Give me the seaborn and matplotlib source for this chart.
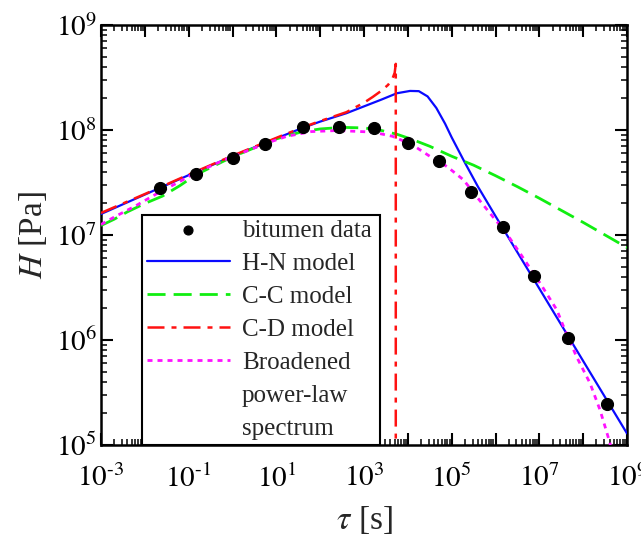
import numpy as np
import pandas as pd
import matplotlib
matplotlib.use("Agg")
import matplotlib.pyplot as plt
import matplotlib.ticker as mticker
from matplotlib.lines import Line2D
import seaborn as sns

# ---------------- data ----------------
data_tau = [2.2e-2, 0.145, 1.01, 5.6, 41.0, 274.0, 1.7e3, 9.9e3, 5.15e4,
            2.72e5, 1.46e6, 7.6e6, 4.6e7, 3.44e8]
data_H = [2.82e7, 3.81e7, 5.45e7, 7.36e7, 1.06e8, 1.06e8, 1.04e8, 7.57e7,
          5.1e7, 2.58e7, 1.18e7, 4.07e6, 1.04e6, 2.44e5]

# H-N model (log10 tau, log10 H)
hn_logtau = [-3, -2, -1, 0, 1, 1.6, 2.0, 2.6, 3.0, 3.4, 3.75, 4.05, 4.25,
             4.45, 4.65, 4.85, 5.0, 5.3, 5.6, 6.0, 6.5, 7.0, 7.5, 8.0, 8.5, 9.0]
hn_logH = [7.20, 7.385, 7.57, 7.75, 7.92, 8.02, 8.08, 8.16, 8.225, 8.29,
           8.35, 8.372, 8.37, 8.32, 8.21, 8.06, 7.93, 7.69, 7.46, 7.18,
           6.835, 6.49, 6.145, 5.80, 5.455, 5.11]

# C-C model
cc_logtau = [-3, -2.7, -2.4, -2.0, -1.6, -1.2, -0.85, 0, 1.0, 1.6, 2.0, 2.5,
             3.0, 3.4, 3.75, 4.1, 4.5, 5.0, 5.5, 6.0, 6.5, 7.0, 7.5, 8.0, 8.5, 9.0]
cc_logH = [7.09, 7.15, 7.22, 7.30, 7.37, 7.47, 7.57, 7.745, 7.915, 7.985,
           8.01, 8.025, 8.02, 7.995, 7.96, 7.91, 7.845, 7.75, 7.665, 7.565,
           7.46, 7.35, 7.235, 7.12, 7.0, 6.88]

# C-D model
cd_logtau = [-3, -2, -1, 0, 1, 1.6, 2.0, 2.6, 3.0, 3.2, 3.4, 3.55, 3.65,
             3.70, 3.725, 3.725]
cd_logH = [7.21, 7.39, 7.575, 7.755, 7.925, 8.025, 8.085, 8.17, 8.26, 8.315,
           8.375, 8.43, 8.49, 8.545, 8.63, 4.0]

# Broadened power-law spectrum
bp_logtau = [-3, -2.68, -2.2, -1.7, -1.2, -0.85, -0.4, 0.02, 0.78, 1.24, 1.8,
             2.4, 3.2, 3.65, 4.1, 4.5, 4.9, 5.27, 5.57, 5.875, 6.25, 6.56,
             7.02, 7.40, 7.55, 7.85, 8.155, 8.385, 8.5, 8.61, 8.68]
bp_logH = [7.10, 7.175, 7.28, 7.40, 7.51, 7.59, 7.675, 7.75, 7.875, 7.94,
           7.985, 7.995, 7.98, 7.94, 7.86, 7.75, 7.65, 7.525, 7.365, 7.207,
           7.016, 6.826, 6.54, 6.286, 6.13, 5.84, 5.59, 5.333, 5.174, 5.02, 4.85]

x_major_exp = list(range(-3, 10))
y_major_exp = list(range(5, 10))

labels = ["bitumen data", "H-N model", "C-C model", "C-D model", "Broadened"]
extra_label_lines = ["power-law", "spectrum"]

# ---------------- style ----------------
sns.set_theme(style="ticks")
plt.rcParams["font.family"] = ["Liberation Serif", "DejaVu Serif"]
plt.rcParams["mathtext.fontset"] = "stix"

fig = plt.figure(figsize=(6.41, 5.51), dpi=100)
ax = fig.add_axes([101 / 641, 1 - 445 / 551, 526 / 641, 420 / 551])
ax.set_xscale("log")
ax.set_yscale("log")


def curve(lt, lh):
    return pd.DataFrame({"tau": np.power(10.0, lt), "H": np.power(10.0, lh)})


sns.lineplot(data=curve(hn_logtau, hn_logH), x="tau", y="H", ax=ax, sort=False,
             estimator=None, color="#0a0aff", lw=1.6, label=labels[1], zorder=3)
sns.lineplot(data=curve(cc_logtau, cc_logH), x="tau", y="H", ax=ax, sort=False,
             estimator=None, color="#11ee11", lw=2.0, label=labels[2],
             linestyle=(0, (6.5, 2.9)), zorder=3)
sns.lineplot(data=curve(cd_logtau, cd_logH), x="tau", y="H", ax=ax, sort=False,
             estimator=None, color="#ff1111", lw=1.8, label=labels[3],
             linestyle=(0, (6.8, 2.8, 2.0, 2.8)), zorder=3)
sns.lineplot(data=curve(bp_logtau, bp_logH), x="tau", y="H", ax=ax, sort=False,
             estimator=None, color="#ff11ff", lw=2.0, label=labels[4],
             linestyle=(0, (1.8, 1.8)), zorder=3)
sns.scatterplot(x=data_tau, y=data_H, ax=ax, color="black", s=75,
                edgecolor="black", linewidth=0.8, label=labels[0], zorder=5)

ax.set_xlim(1e-3, 1e9)
ax.set_ylim(1e5, 1e9)

ax.xaxis.set_major_locator(mticker.FixedLocator([10.0 ** k for k in x_major_exp]))
ax.xaxis.set_minor_locator(mticker.LogLocator(base=10, subs=np.arange(2, 10), numticks=100))
ax.yaxis.set_major_locator(mticker.FixedLocator([10.0 ** k for k in y_major_exp]))
ax.yaxis.set_minor_locator(mticker.LogLocator(base=10, subs=np.arange(2, 10), numticks=100))


def exp_label(e):
    s = str(abs(e))
    if e < 0:
        s = "\N{HYPHEN}" + s
    return r"$10^{%s}$" % s


def xfmt(v, p):
    e = int(round(np.log10(v)))
    return exp_label(e) if e % 2 != 0 else ""


def yfmt(v, p):
    return exp_label(int(round(np.log10(v))))


ax.xaxis.set_major_formatter(mticker.FuncFormatter(xfmt))
ax.yaxis.set_major_formatter(mticker.FuncFormatter(yfmt))

ax.tick_params(which="both", direction="in", top=True, right=True,
               colors="black", labelsize=21)
ax.tick_params(which="major", length=8.6, width=1.5)
ax.tick_params(which="minor", length=4.3, width=1.1)
ax.tick_params(axis="x", which="major", pad=14)
ax.tick_params(axis="y", which="major", pad=3)
for s in ax.spines.values():
    s.set_linewidth(1.8)
    s.set_color("black")

ax.set_xlabel(r"$\tau$ [s]", fontsize=24, labelpad=8)
ax.set_ylabel(r"$H$ [Pa]", fontsize=24, labelpad=5)

handles, labs = ax.get_legend_handles_labels()
order = [labs.index(l) for l in labels]
leg_handles = [handles[i] for i in order]
leg_labels = [labs[i] for i in order]
for extra in extra_label_lines:
    leg_handles.append(Line2D([], [], linestyle="none", marker=None))
    leg_labels.append(extra)

leg = ax.legend(leg_handles, leg_labels,
                loc="lower left", bbox_to_anchor=(41 / 526, 0.0, 238 / 526, 232 / 420),
                mode="expand", borderaxespad=0, fontsize=18, handlelength=3.3,
                handletextpad=0.5, labelspacing=0.42, borderpad=0.2,
                fancybox=False, framealpha=1, edgecolor="black",
                markerscale=0.75)
leg.get_frame().set_linewidth(1.5)
leg.set_zorder(4)

fig.savefig("out.png", dpi=100)
